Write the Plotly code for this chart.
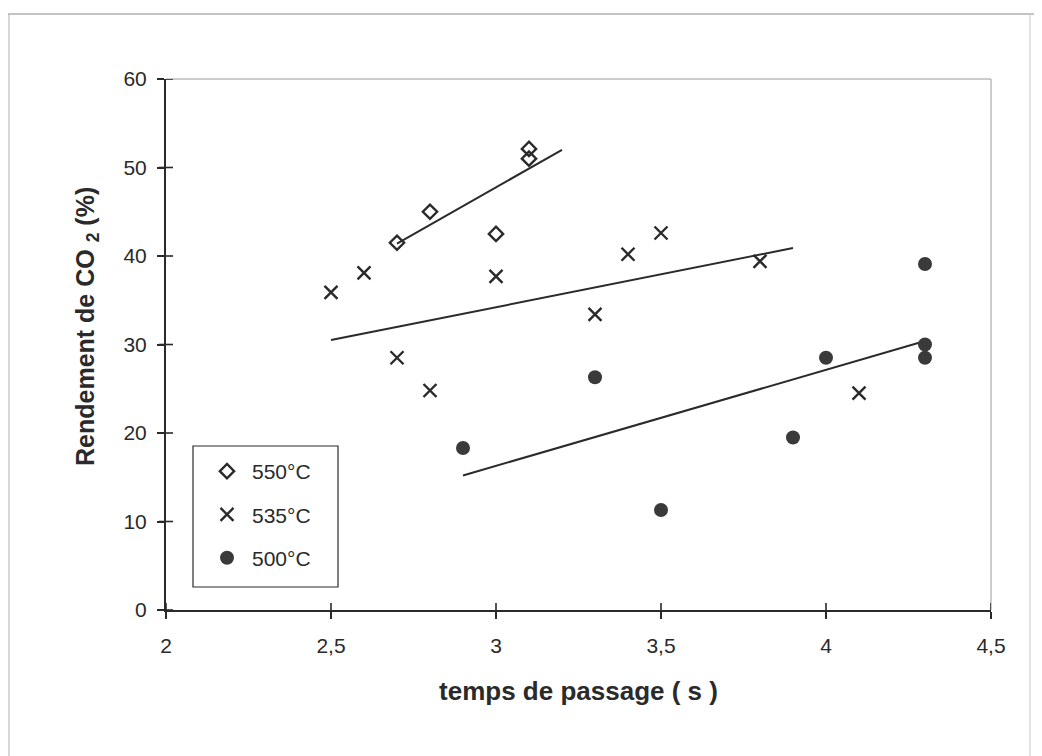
import plotly.graph_objects as go

# Data
x_550 = [2.7, 2.8, 3.0, 3.1, 3.1]
y_550 = [41.5, 45.0, 42.5, 51.0, 52.1]

x_535 = [2.5, 2.6, 2.7, 2.8, 3.0, 3.3, 3.4, 3.5, 3.8, 4.1]
y_535 = [35.9, 38.1, 28.5, 24.8, 37.7, 33.4, 40.2, 42.6, 39.4, 24.5]

x_500 = [2.9, 3.3, 3.5, 3.9, 4.0, 4.3, 4.3, 4.3]
y_500 = [18.3, 26.3, 11.3, 19.5, 28.5, 39.1, 30.0, 28.5]

# Trend lines (end points)
trend_550_x = [2.7, 3.2]
trend_550_y = [41.4, 52.0]
trend_535_x = [2.5, 3.9]
trend_535_y = [30.5, 40.9]
trend_500_x = [2.9, 4.3]
trend_500_y = [15.2, 30.4]

labels = ["550°C", "535°C", "500°C"]
x_ticks = [2, 2.5, 3, 3.5, 4, 4.5]
x_ticktext = ["2", "2,5", "3", "3,5", "4", "4,5"]
y_ticks = [0, 10, 20, 30, 40, 50, 60]

INK = "#2a2a2a"
FONT = "Liberation Sans, Arial, sans-serif"

fig = go.Figure()

for tx, ty in [(trend_550_x, trend_550_y), (trend_535_x, trend_535_y), (trend_500_x, trend_500_y)]:
    fig.add_trace(go.Scatter(x=tx, y=ty, mode="lines", line=dict(color=INK, width=2),
                             showlegend=False, hoverinfo="skip"))

fig.add_trace(go.Scatter(x=x_550, y=y_550, mode="markers", name=labels[0], legendgroup="a",
                         marker=dict(symbol="diamond-open", size=11, color=INK,
                                     line=dict(width=2.4, color=INK))))
fig.add_trace(go.Scatter(x=x_535, y=y_535, mode="markers", name=labels[1], legendgroup="b",
                         marker=dict(symbol="x-thin-open", size=13, color=INK,
                                     line=dict(width=2.4, color=INK))))
fig.add_trace(go.Scatter(x=x_500, y=y_500, mode="markers", name=labels[2], legendgroup="c",
                         marker=dict(symbol="circle", size=14, color="#3a3a3a",
                                     line=dict(width=0))))

W, H = 1034, 748
L, T, R, B = 158, 71, 51, 146
PW, PH = W - L - R, H - T - B
TK = 7  # half-length of the crossing tick marks, px


def px(xf):
    return (xf - L) / PW


def py(yf):
    return 1 - (yf - T) / PH


shapes = [
    # legend box
    dict(type="rect", xref="paper", yref="paper", x0=px(185), x1=px(330),
         y0=py(579), y1=py(438), line=dict(color=INK, width=1.2), fillcolor="white",
         layer="below"),
    # plot area top and right border (light)
    dict(type="line", xref="paper", yref="paper", x0=0, x1=1, y0=1, y1=1,
         line=dict(color="#9a9a9a", width=1)),
    dict(type="line", xref="paper", yref="paper", x0=1, x1=1, y0=0, y1=1,
         line=dict(color="#9a9a9a", width=1)),
    # outer frame
    dict(type="line", xref="paper", yref="paper", x0=px(0), x1=px(W),
         y0=py(6), y1=py(6), line=dict(color="#8a8a8a", width=1.2)),
    dict(type="line", xref="paper", yref="paper", x0=px(1), x1=px(1),
         y0=py(H), y1=py(6), line=dict(color="#b0b0b0", width=1)),
    dict(type="line", xref="paper", yref="paper", x0=px(1022), x1=px(1022),
         y0=py(H), y1=py(6), line=dict(color="#c8c8c8", width=1)),
]
# crossing tick marks at the tick positions
for v in x_ticks:
    shapes.append(dict(type="line", xref="x", yref="paper", x0=v, x1=v,
                       y0=-TK / PH, y1=TK / PH, line=dict(color=INK, width=1.6)))
for v in y_ticks:
    shapes.append(dict(type="line", xref="paper", yref="y", x0=-TK / PW, x1=TK / PW,
                       y0=v, y1=v, line=dict(color=INK, width=1.6)))

fig.update_layout(
    width=W, height=H,
    margin=dict(l=L, r=R, t=T, b=B),
    paper_bgcolor="white", plot_bgcolor="white",
    font=dict(family=FONT, color=INK, size=21),
    xaxis=dict(range=[2, 4.5], tickvals=x_ticks, ticktext=x_ticktext,
               showgrid=False, zeroline=False, showline=True, linecolor=INK, linewidth=2,
               ticks="outside", ticklen=TK, tickwidth=1.6, tickcolor=INK,
               ticklabelstandoff=9, tickfont=dict(size=21, family=FONT),
               title=dict(text="<b>temps de passage ( s )</b>", font=dict(size=26, family=FONT),
                          standoff=26)),
    yaxis=dict(range=[0, 60], tickvals=y_ticks,
               showgrid=False, zeroline=False, showline=True, linecolor=INK, linewidth=2,
               ticks="outside", ticklen=TK, tickwidth=1.6, tickcolor=INK,
               ticklabelstandoff=6, tickfont=dict(size=21, family=FONT)),
    legend=dict(x=px(194), y=py(443), xanchor="left", yanchor="top",
                bgcolor="rgba(0,0,0,0)", borderwidth=0,
                font=dict(size=21, family=FONT), tracegroupgap=13,
                itemwidth=40),
    showlegend=True,
    shapes=shapes,
    annotations=[
        dict(text="<b>Rendement de CO <sub>2</sub> (%)</b>", textangle=-90,
             xref="paper", yref="paper", x=px(79), y=py(319),
             xanchor="center", yanchor="middle", showarrow=False,
             font=dict(size=25, family=FONT, color=INK)),
    ],
)

fig.write_html("out.html")
